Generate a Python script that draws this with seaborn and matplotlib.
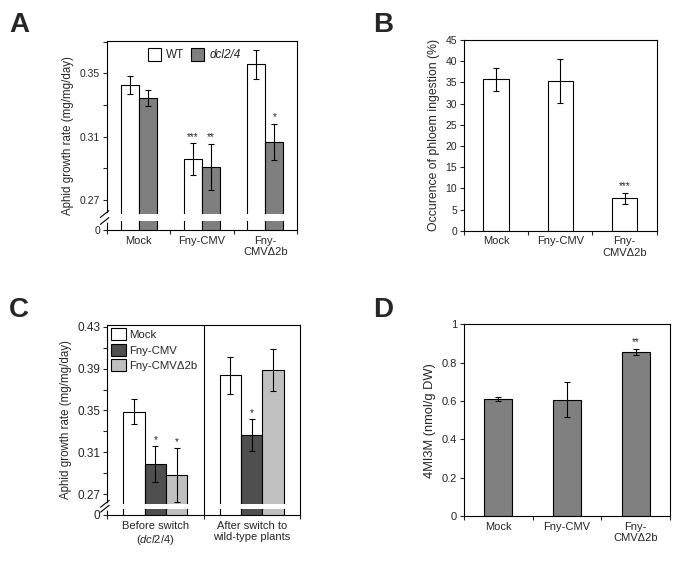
import numpy as np
import pandas as pd
import matplotlib
matplotlib.use('Agg')
import matplotlib.pyplot as plt
import seaborn as sns

# panel A - aphid growth rate on WT vs dcl2/4
a_groups = ['Mock', 'Fny-CMV', 'Fny-\nCMVΔ2b']
a_wt = [0.3426, 0.2958, 0.3557]
a_wt_err = [0.0057, 0.0100, 0.0093]
a_dcl = [0.3346, 0.2908, 0.3066]
a_dcl_err = [0.0050, 0.0146, 0.0115]
a_wt_stars = ['', '***', '']
a_dcl_stars = ['', '**', '*']

# panel B - phloem ingestion
b_groups = ['Mock', 'Fny-CMV', 'Fny-\nCMVΔ2b']
b_vals = [35.7, 35.4, 7.6]
b_err = [2.8, 5.2, 1.4]
b_stars = ['', '', '***']

# panel C - before / after switch
c_groups = ['Before switch\n($\\mathit{dcl2/4}$)', 'After switch to\nwild-type plants']
c_mock = [0.3489, 0.3835]
c_mock_err = [0.0120, 0.0180]
c_fny = [0.2989, 0.3266]
c_fny_err = [0.0169, 0.0150]
c_d2b = [0.2884, 0.3886]
c_d2b_err = [0.0258, 0.0200]
c_fny_stars = ['*', '*']
c_d2b_stars = ['*', '']

# panel D - 4MI3M
d_groups = ['Mock', 'Fny-CMV', 'Fny-\nCMVΔ2b']
d_vals = [0.610, 0.607, 0.855]
d_err = [0.010, 0.092, 0.015]
d_stars = ['', '', '**']

sns.set_theme(style='ticks')
plt.rcParams['font.family'] = ['Liberation Sans', 'DejaVu Sans']
plt.rcParams['mathtext.fontset'] = 'custom'
plt.rcParams['mathtext.rm'] = 'Liberation Sans'
plt.rcParams['mathtext.it'] = 'Liberation Sans:italic'
plt.rcParams['axes.linewidth'] = 0.8

fig = plt.figure(figsize=(6.83, 5.65), dpi=100)
axA = fig.add_axes([0.1567, 0.5929, 0.2780, 0.3345])
axB = fig.add_axes([0.6794, 0.5917, 0.2821, 0.3375])
axC = fig.add_axes([0.1571, 0.0885, 0.2821, 0.3363])
axD = fig.add_axes([0.6794, 0.0867, 0.3016, 0.3393])


def add_errs(ax, errs_list, stars_list, pad):
    conts = list(ax.containers)
    for cont, errs, stars in zip(conts, errs_list, stars_list):
        for bar, e, s in zip(cont, errs, stars):
            x = bar.get_x() + bar.get_width() / 2
            h = bar.get_height()
            ax.errorbar(x, h, yerr=e, color='black', lw=0.8, capsize=2, capthick=0.8, zorder=2)
            if s:
                ax.text(x, h + e + pad, s, ha='center', va='bottom', fontsize=7)


def add_break(ax, lo, hi):
    ax.axhspan(lo, hi, xmin=0, xmax=0.99, color='white', lw=0, zorder=3)
    y0, y1 = ax.get_ylim()
    fl = (lo - y0) / (y1 - y0)
    fh = (hi - y0) / (y1 - y0)
    ax.plot([0, 0], [fl, fh], color='white', lw=2, transform=ax.transAxes, clip_on=False, zorder=5)
    for f in (fl, fh):
        ax.plot([-0.035, 0.01], [f - 0.018, f + 0.018], color='black', lw=0.8,
                transform=ax.transAxes, clip_on=False, zorder=6)


def style(ax, n):
    for sp in ax.spines.values():
        sp.set_visible(True)
        sp.set_color('black')
        sp.set_linewidth(0.8)
    ax.set_xlim(-0.5, n - 0.5)
    ax.set_xlabel('')
    ax.set_xticks(np.arange(-0.5, n, 1.0), minor=True)
    ax.tick_params(axis='x', which='major', length=0, labelsize=8, pad=4)
    ax.tick_params(axis='x', which='minor', length=3, width=0.8, direction='out')
    ax.tick_params(axis='y', length=3, width=0.8, labelsize=7.5, pad=2)
    lg = ax.get_legend()
    if lg is not None:
        lg.remove()


# ---- A
dfA = pd.DataFrame({'cond': a_groups * 2, 'val': a_wt + a_dcl,
                    'geno': ['WT'] * 3 + ['dcl2/4'] * 3})
sns.barplot(data=dfA, x='cond', y='val', hue='geno', palette=['white', '#7f7f7f'],
            saturation=1, edgecolor='black', linewidth=0.8, width=0.57, errorbar=None, ax=axA)
axA.set_ylim(0.251, 0.3705)
add_errs(axA, [a_wt_err, a_dcl_err], [a_wt_stars, a_dcl_stars], 0.001)
style(axA, 3)
axA.set_yticks([0.251, 0.27, 0.29, 0.31, 0.33, 0.35, 0.37])
axA.set_yticklabels(['0', '0.27', '', '0.31', '', '0.35', ''])
add_break(axA, 0.2567, 0.2611)
axA.set_ylabel('Aphid growth rate (mg/mg/day)', fontsize=8.3)
hA, _ = axA.get_legend_handles_labels()
legA = axA.legend(hA[:2], ['WT', 'dcl2/4'], ncol=2, loc='upper center', bbox_to_anchor=(0.46, 1.0),
                  frameon=False, fontsize=8.5, handlelength=1.1, handleheight=1.3,
                  columnspacing=0.6, handletextpad=0.4, borderaxespad=0.2)
legA.get_texts()[1].set_fontstyle('italic')

# ---- B
dfB = pd.DataFrame({'cond': b_groups, 'val': b_vals})
sns.barplot(data=dfB, x='cond', y='val', color='white', saturation=1, edgecolor='black',
            linewidth=0.8, width=0.4, errorbar=None, ax=axB)
add_errs(axB, [b_err], [b_stars], 0.3)
style(axB, 3)
axB.set_ylim(0, 45)
axB.set_yticks(np.arange(0, 46, 5))
axB.set_ylabel('Occurence of phloem ingestion (%)', fontsize=8.8)

# ---- C
dfC = pd.DataFrame({'cond': c_groups * 3, 'val': c_mock + c_fny + c_d2b,
                    'trt': ['Mock'] * 2 + ['Fny-CMV'] * 2 + ['Fny-CMVΔ2b'] * 2})
sns.barplot(data=dfC, x='cond', y='val', hue='trt', palette=['white', '#4f4f4f', '#c0c0c0'],
            saturation=1, edgecolor='black', linewidth=0.8, width=0.665, errorbar=None, ax=axC)
axC.set_ylim(0.250, 0.4317)
add_errs(axC, [c_mock_err, c_fny_err, c_d2b_err], [['', ''], c_fny_stars, c_d2b_stars], 0.001)
style(axC, 2)
axC.set_yticks([0.250, 0.27, 0.29, 0.31, 0.33, 0.35, 0.37, 0.39, 0.41, 0.43])
axC.set_yticklabels(['0', '0.27', '', '0.31', '', '0.35', '', '0.39', '', '0.43'])
axC.tick_params(axis='y', labelsize=8.5)
axC.axvline(0.5, color='black', lw=0.8, zorder=4)
add_break(axC, 0.2560, 0.2607)
axC.set_ylabel('Aphid growth rate (mg/mg/day)', fontsize=8.3)
hC, _ = axC.get_legend_handles_labels()
axC.legend(hC[:3], ['Mock', 'Fny-CMV', 'Fny-CMVΔ2b'], loc='upper left', frameon=False,
           fontsize=8.2, handlelength=1.3, handleheight=1.25, handletextpad=0.3,
           labelspacing=0.3, borderaxespad=0.1, borderpad=0.2)

# ---- D
dfD = pd.DataFrame({'cond': d_groups, 'val': d_vals})
sns.barplot(data=dfD, x='cond', y='val', color='#808080', saturation=1, edgecolor='black',
            linewidth=0.8, width=0.41, errorbar=None, ax=axD)
add_errs(axD, [d_err], [d_stars], 0.01)
style(axD, 3)
axD.set_ylim(0, 1)
axD.set_yticks([0, 0.2, 0.4, 0.6, 0.8, 1.0])
axD.set_yticklabels(['0', '0.2', '0.4', '0.6', '0.8', '1'])
axD.tick_params(axis='y', labelsize=8)
axD.set_ylabel('4MI3M (nmol/g DW)', fontsize=9.3)

for lab, x, y in [('A', 0.013, 0.978), ('B', 0.547, 0.978), ('C', 0.013, 0.474), ('D', 0.547, 0.474)]:
    fig.text(x, y, lab, fontsize=20, fontweight='bold', va='top', ha='left')

fig.savefig('out.png', dpi=100)
